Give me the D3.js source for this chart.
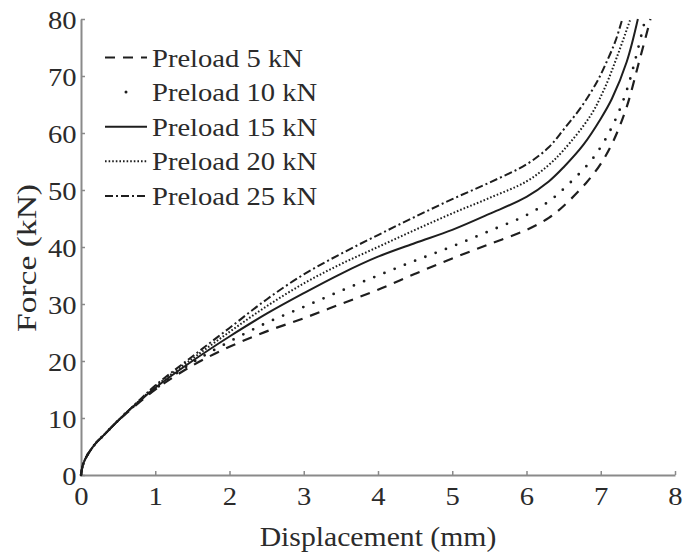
<!DOCTYPE html>
<html>
<head>
<meta charset="utf-8">
<script src="https://cdn.jsdelivr.net/npm/d3@7"></script>
<style>
  html, body { margin: 0; padding: 0; background: #fff; }
  svg { display: block; }
  text { font-family: "Liberation Serif", "Times New Roman", serif; fill: #2b2b2b; }
</style>
</head>
<body>
<svg id="chart" width="683" height="556"></svg>
<script>
// Force–displacement response for five bolt preload levels
const xTickValues = [0, 1, 2, 3, 4, 5, 6, 7, 8];
const yTickValues = [0, 10, 20, 30, 40, 50, 60, 70, 80];
const seriesNames = ["Preload 5 kN", "Preload 10 kN", "Preload 15 kN", "Preload 20 kN", "Preload 25 kN"];

// Displacement (mm) / Force (kN) pairs per preload
const disp5   = [0, 0.02, 0.05, 0.1, 0.2, 0.3, 0.45, 0.6, 0.8, 1, 1.5, 2, 2.5, 3, 3.5, 4, 4.5, 5, 5.5, 6, 6.3, 6.5, 6.8, 7.0, 7.17, 7.35, 7.51, 7.67];
const force5  = [0, 1.5, 2.6, 3.8, 5.6, 6.9, 8.9, 10.7, 12.9, 15.0, 19.2, 22.5, 25.2, 27.5, 30.0, 32.5, 35.3, 38.0, 40.5, 43.0, 45.1, 47.2, 51.2, 54.6, 58.6, 64.6, 72.2, 80];

const disp10  = [0, 0.02, 0.05, 0.1, 0.2, 0.3, 0.45, 0.6, 0.8, 1, 1.5, 2, 2.5, 3, 3.5, 4, 4.5, 5, 5.5, 6, 6.3, 6.5, 6.86, 7.05, 7.22, 7.35, 7.44, 7.6];
const force10 = [0, 1.5, 2.6, 3.8, 5.6, 6.9, 8.9, 10.8, 13.0, 15.1, 19.7, 23.4, 26.7, 29.5, 32.3, 35.0, 37.6, 40.1, 42.8, 45.6, 48.0, 50.2, 55.0, 58.6, 63.0, 67.5, 71.6, 80];

const disp15  = [0, 0.02, 0.05, 0.1, 0.2, 0.3, 0.45, 0.6, 0.8, 1, 1.5, 2, 2.5, 3, 3.5, 4, 4.5, 5, 5.5, 6, 6.3, 6.5, 6.77, 7.0, 7.15, 7.35, 7.5];
const force15 = [0, 1.5, 2.6, 3.8, 5.6, 6.9, 8.9, 10.8, 13.1, 15.3, 20.0, 24.3, 28.3, 31.9, 35.3, 38.3, 40.7, 43.0, 45.8, 48.8, 51.5, 54.0, 58.0, 62.5, 66.0, 72.5, 80];

const disp20  = [0, 0.02, 0.05, 0.1, 0.2, 0.3, 0.45, 0.6, 0.8, 1, 1.5, 2, 2.5, 3, 3.5, 4, 4.5, 5, 5.5, 6, 6.3, 6.5, 6.86, 7.05, 7.22, 7.4];
const force20 = [0, 1.5, 2.6, 3.8, 5.6, 6.9, 8.9, 10.8, 13.2, 15.5, 20.4, 25.1, 29.6, 33.6, 37.0, 40.0, 43.0, 45.9, 48.6, 51.5, 54.4, 57.0, 63.0, 67.8, 73.4, 80];

const disp25  = [0, 0.02, 0.05, 0.1, 0.2, 0.3, 0.45, 0.6, 0.8, 1, 1.5, 2, 2.5, 3, 3.5, 4, 4.5, 5, 5.5, 6, 6.3, 6.5, 6.75, 6.95, 7.08, 7.2, 7.29];
const force25 = [0, 1.5, 2.6, 3.8, 5.6, 6.9, 8.9, 10.8, 13.3, 15.7, 20.8, 25.8, 30.8, 35.2, 38.8, 42.1, 45.3, 48.4, 51.3, 54.5, 57.5, 60.6, 64.8, 69.0, 72.5, 76.2, 80];

const xs = [disp5, disp10, disp15, disp20, disp25];
const ys = [force5, force10, force15, force20, force25];

// line styles: dashed, dot markers, solid, fine dots, dash-dot
const styles = [
  { dash: "10,8",        width: 2.2, cap: "butt"  },
  { dash: "0,11",        width: 2.8, cap: "round" },
  { dash: null,          width: 2.0, cap: "butt"  },
  { dash: "1.6,2",       width: 2.0, cap: "butt"  },
  { dash: "8,3,2,3",     width: 2.0, cap: "butt"  }
];

const svg = d3.select("#chart");
const plotLeft = 81, plotRight = 675, plotTop = 19, plotBottom = 475;
const stretch = 1.1;   // horizontal widening of the serif type

const x = d3.scaleLinear().domain([0, 8]).range([plotLeft, plotRight]);
const y = d3.scaleLinear().domain([0, 80]).range([plotBottom, plotTop]);

const axisColor = "#8a8a8a";
const fontSize = 26;

// bottom axis
const gx = svg.append("g")
  .attr("transform", `translate(0,${plotBottom})`)
  .call(d3.axisBottom(x).tickValues(xTickValues).tickSizeInner(-4).tickSizeOuter(0).tickPadding(12).tickFormat(d3.format("d")));
// left axis
const gy = svg.append("g")
  .attr("transform", `translate(${plotLeft},0)`)
  .call(d3.axisLeft(y).tickValues(yTickValues).tickSizeInner(-4).tickSizeOuter(0).tickPadding(4).tickFormat(d3.format("d")));

[gx, gy].forEach(g => {
  g.select(".domain").attr("stroke", axisColor).attr("stroke-width", 2);
  g.selectAll(".tick line").attr("stroke", axisColor).attr("stroke-width", 1.5);
  g.selectAll(".tick text")
    .attr("font-size", fontSize)
    .style("font-family", "'Liberation Serif', 'Times New Roman', serif")
    .attr("fill", "#2b2b2b")
    .attr("transform", `scale(${stretch},1)`);
});
gy.selectAll(".tick text").attr("dy", "0.35em");

// axis titles
svg.append("text")
  .attr("transform", `translate(${(plotLeft + plotRight) / 2},546) scale(${stretch},1)`)
  .attr("text-anchor", "middle")
  .attr("font-size", 27)
  .text("Displacement (mm)");

svg.append("text")
  .attr("transform", `translate(36,258) rotate(-90)`)
  .attr("text-anchor", "middle")
  .attr("font-size", 28)
  .attr("textLength", 148)
  .attr("lengthAdjust", "spacingAndGlyphs")
  .text("Force (kN)");

// curves
const line = d3.line().curve(d3.curveCatmullRom.alpha(0.5));
const plot = svg.append("g");
xs.forEach((xv, i) => {
  const pts = xv.map((d, j) => [x(d), y(ys[i][j])]);
  const st = styles[i];
  plot.append("path")
    .attr("d", line(pts))
    .attr("fill", "none")
    .attr("stroke", "#1e1e1e")
    .attr("stroke-width", st.width)
    .attr("stroke-linecap", st.cap)
    .attr("stroke-dasharray", st.dash);
});

// legend
const legend = svg.append("g");
const rowY0 = 57.5, rowStep = 34.6, lx0 = 105, lx1 = 147;
seriesNames.forEach((name, i) => {
  const cy = rowY0 + i * rowStep;
  const st = styles[i];
  if (i === 1) {
    legend.append("circle").attr("cx", (lx0 + lx1) / 2).attr("cy", cy).attr("r", 1.5).attr("fill", "#1e1e1e");
  } else {
    legend.append("line")
      .attr("x1", lx0).attr("x2", lx1).attr("y1", cy).attr("y2", cy)
      .attr("stroke", "#1e1e1e")
      .attr("stroke-width", st.width)
      .attr("stroke-dasharray", st.dash);
  }
  legend.append("text")
    .attr("transform", `translate(152,${cy}) scale(${stretch},1)`)
    .attr("dy", "0.35em")
    .attr("font-size", fontSize)
    .text(name);
});
</script>
</body>
</html>
